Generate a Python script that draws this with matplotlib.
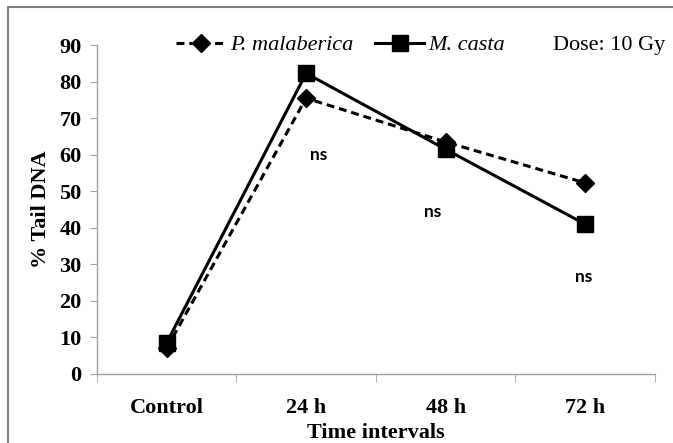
import matplotlib.pyplot as plt
import matplotlib.patches as patches

# Data
categories = ['Control', '24 h', '48 h', '72 h']
p_malaberica = [7, 75.5, 63.5, 52.3]
m_casta = [8.5, 82.3, 61.5, 41]
ns_x = [1.09, 1.91, 2.99]
ns_y = [60, 44.3, 26.5]

plt.rcParams['font.family'] = ['Liberation Serif', 'DejaVu Serif']

fig = plt.figure(figsize=(6.73, 4.43), dpi=100)
ax = fig.add_axes([0.144, 0.156, 0.829, 0.742])

x = list(range(len(categories)))
ax.plot(x, p_malaberica, color='black', lw=2.2, ls=(0, (2.6, 1.6)),
        marker='D', ms=9, label='P. malaberica')
ax.plot(x, m_casta, color='black', lw=2.2, ls='-',
        marker='s', ms=11, label='M. casta')

for xi, yi in zip(ns_x, ns_y):
    ax.text(xi, yi, 'ns', ha='center', va='center', fontsize=12.5,
            family=['Lato', 'DejaVu Sans'], fontweight='bold')

ax.set_xlim(-0.5, 3.5)
ax.set_ylim(0, 90)
ax.set_yticks(range(0, 91, 10))
ax.set_xticks(x)
ax.set_xticklabels(categories)
ax.set_xticks([-0.5, 0.5, 1.5, 2.5, 3.5], minor=True)
ax.tick_params(axis='x', which='major', length=0, pad=17)
ax.tick_params(axis='x', which='minor', length=6, color='#a0a0a0')
ax.tick_params(axis='y', length=5, color='#a0a0a0', pad=6)
for lab in ax.get_xticklabels() + ax.get_yticklabels():
    lab.set_fontsize(16)
    lab.set_fontweight('bold')

for s in ['top', 'right']:
    ax.spines[s].set_visible(False)
for s in ['left', 'bottom']:
    ax.spines[s].set_color('#a0a0a0')
    ax.spines[s].set_linewidth(1)

ax.set_xlabel('Time intervals', fontsize=16, fontweight='bold', labelpad=4)
ax.set_ylabel('% Tail DNA', fontsize=16, fontweight='bold', labelpad=6)

leg = fig.legend(loc='center left', bbox_to_anchor=(0.262, 0.898), ncol=2,
                 frameon=False, handlelength=2.2, handletextpad=0.2,
                 columnspacing=1.0, prop={'size': 16, 'style': 'italic'},
                 borderaxespad=0, borderpad=0)
fig.text(0.988, 0.898, 'Dose: 10 Gy', ha='right', va='center', fontsize=16)

# figure frame (only top and left visible)
fig.patches.append(patches.Rectangle((8 / 673, -0.2), 1.2, 1 - 7 / 443 + 0.2,
                                     transform=fig.transFigure, fill=False,
                                     edgecolor='#808080', lw=1.5))

plt.savefig('out.png', dpi=100)
